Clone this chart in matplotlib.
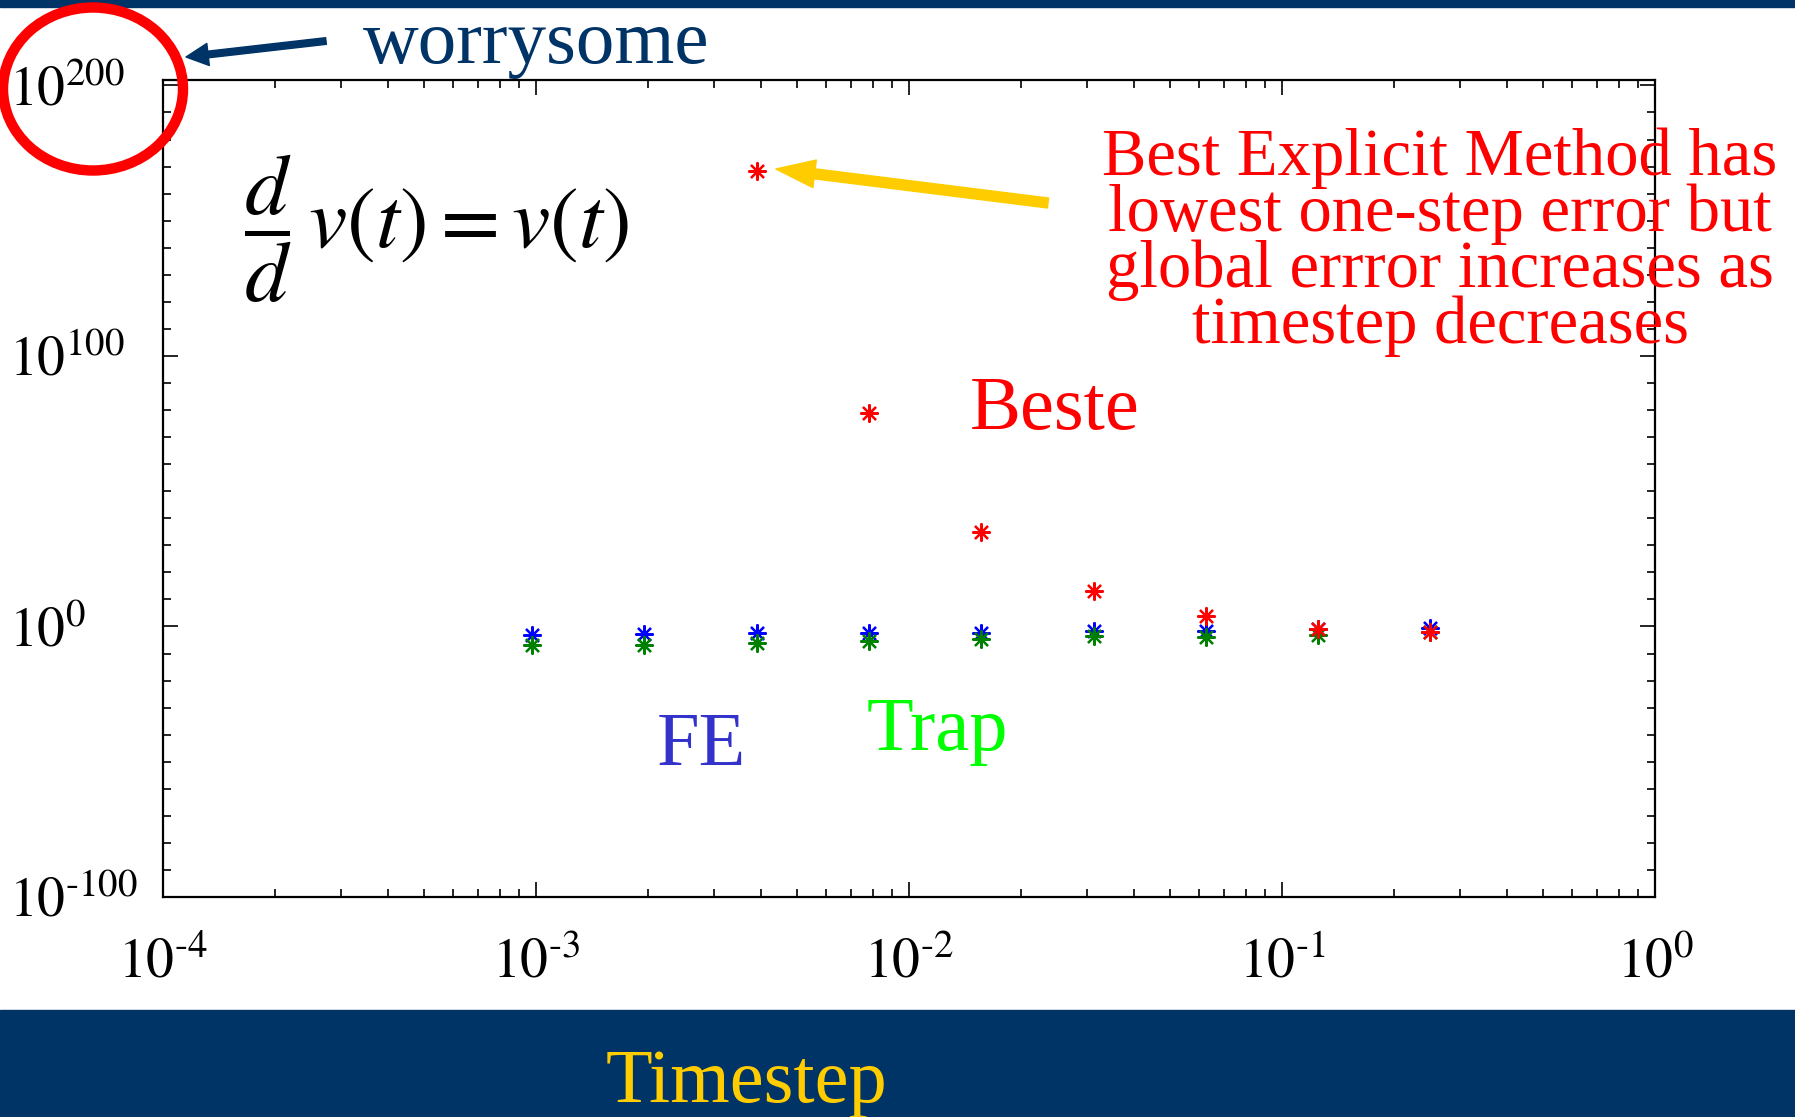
import numpy as np
import matplotlib
matplotlib.use("Agg")
import matplotlib.pyplot as plt
from matplotlib.patches import Ellipse, FancyArrowPatch, Rectangle
from matplotlib.ticker import FixedLocator, FuncFormatter, NullFormatter, LogLocator

plt.rcParams["font.family"] = ["Liberation Serif", "DejaVu Serif"]
plt.rcParams["mathtext.fontset"] = "stix"

# ---- data ----
timestep = [1/1024, 1/512, 1/256, 1/128, 1/64, 1/32, 1/16, 1/8, 1/4]
err_fe = [1e-3, 1.2e-3, 3e-3, 3.5e-3, 4e-3, 3e-2, 3e-2, 8e-2, 0.4]
err_trap = [1e-7, 1.6e-7, 6e-7, 3e-6, 2e-5, 2e-4, 1.5e-4, 5e-4, 6e-3]
err_beste = [np.nan, np.nan, 2e168, 1e79, 8e34, 1.6e13, 5e3, 8e-2, 6e-3]

y_major = [1e-100, 1e0, 1e100, 1e200]
note_lines = ["Best Explicit Method has",
              "lowest one-step error but",
              "global errror increases as",
              "timestep decreases"]

NAVY = "#003366"
W, H = 1795, 1117

fig = plt.figure(figsize=(W / 100, H / 100), dpi=100)
fig.patch.set_facecolor("white")


def fx(x):
    return x / W


def fy(y):
    return 1 - y / H


def pow_label(v, _):
    e = int(round(np.log10(v)))
    if e < 0:
        return r"$10^{\text{-}%d}$" % -e
    return r"$10^{%d}$" % e


ax = fig.add_axes([fx(163), fy(897), fx(1655) - fx(163), fy(80) - fy(897)])

star = (8, 2, 0)
ax.plot(timestep, err_fe, ls="none", marker=star, ms=13, mew=1.6, color="#0000ff")
ax.plot(timestep, err_trap, ls="none", marker=star, ms=13, mew=1.6, color="#008000")
ax.plot(timestep, err_beste, ls="none", marker=star, ms=13, mew=1.6, color="#ff0000")

ax.set_xscale("log")
ax.set_yscale("log")
ax.set_xlim(1e-4, 1)
ax.set_ylim(1e-100, 1e202)

ax.xaxis.set_major_locator(LogLocator(base=10, numticks=10))
ax.xaxis.set_minor_locator(LogLocator(base=10, subs=np.arange(2, 10), numticks=50))
ax.xaxis.set_minor_formatter(NullFormatter())
ax.yaxis.set_major_locator(FixedLocator(y_major))
ax.yaxis.set_minor_locator(FixedLocator(10.0 ** np.arange(-100, 201, 10)))
ax.yaxis.set_minor_formatter(NullFormatter())

ax.xaxis.set_major_formatter(FuncFormatter(pow_label))
ax.yaxis.set_major_formatter(FuncFormatter(pow_label))

ax.tick_params(which="both", direction="in", top=True, right=True, width=1.2)
ax.tick_params(which="major", length=11)
ax.tick_params(which="minor", length=6)
ax.tick_params(axis="x", which="major", labelsize=40, pad=29)
ax.tick_params(axis="y", which="major", labelsize=40, pad=111)
for lab in ax.get_yticklabels():
    lab.set_horizontalalignment("left")
for sp in ax.spines.values():
    sp.set_linewidth(1.6)

# header / footer bands
fig.add_artist(Rectangle((0, fy(7)), 1, 7 / H, transform=fig.transFigure,
                         color=NAVY, zorder=0))
fig.add_artist(Rectangle((0, 0), 1, fy(1010), transform=fig.transFigure,
                         color=NAVY, zorder=0))
fig.text(fx(606), fy(1102), "Timestep", color="#ffcc00", fontsize=55, va="baseline")

# annotations
fig.text(fx(363), fy(63), "worrysome", color=NAVY, fontsize=55.5, va="baseline")
fig.add_artist(FancyArrowPatch((fx(326), fy(41)), (fx(186), fy(57)),
                               transform=fig.transFigure, color=NAVY,
                               arrowstyle="simple,head_length=1.0,head_width=1.0,tail_width=0.3",
                               mutation_scale=16, shrinkA=0, shrinkB=0))
fig.add_artist(Ellipse((fx(93), fy(89)), 180 / W, 163 / H, transform=fig.transFigure,
                       fill=False, ec="#ff0000", lw=7.5, zorder=5))

fig.text(fx(244), fy(229), r"$\dfrac{d}{d}\,v(t) = v(t)$", fontsize=62,
         va="center", ha="left")

fig.add_artist(FancyArrowPatch((fx(1048), fy(203)), (fx(776), fy(169)),
                               transform=fig.transFigure, color="#ffcc00",
                               arrowstyle="simple,head_length=1.4,head_width=1.0,tail_width=0.36",
                               mutation_scale=20, shrinkA=0, shrinkB=0))
for i, line in enumerate(note_lines):
    fig.text(fx(1440), fy(175 + 56 * i), line, color="#ff0000", fontsize=48,
             ha="center", va="baseline")

fig.text(fx(970), fy(429), "Beste", color="#ff0000", fontsize=55, va="baseline")
fig.text(fx(657), fy(765), "FE", color="#3333cc", fontsize=55, va="baseline")
fig.text(fx(867), fy(750), "Trap", color="#00ff00", fontsize=55, va="baseline")

fig.savefig("out.png", dpi=100)
